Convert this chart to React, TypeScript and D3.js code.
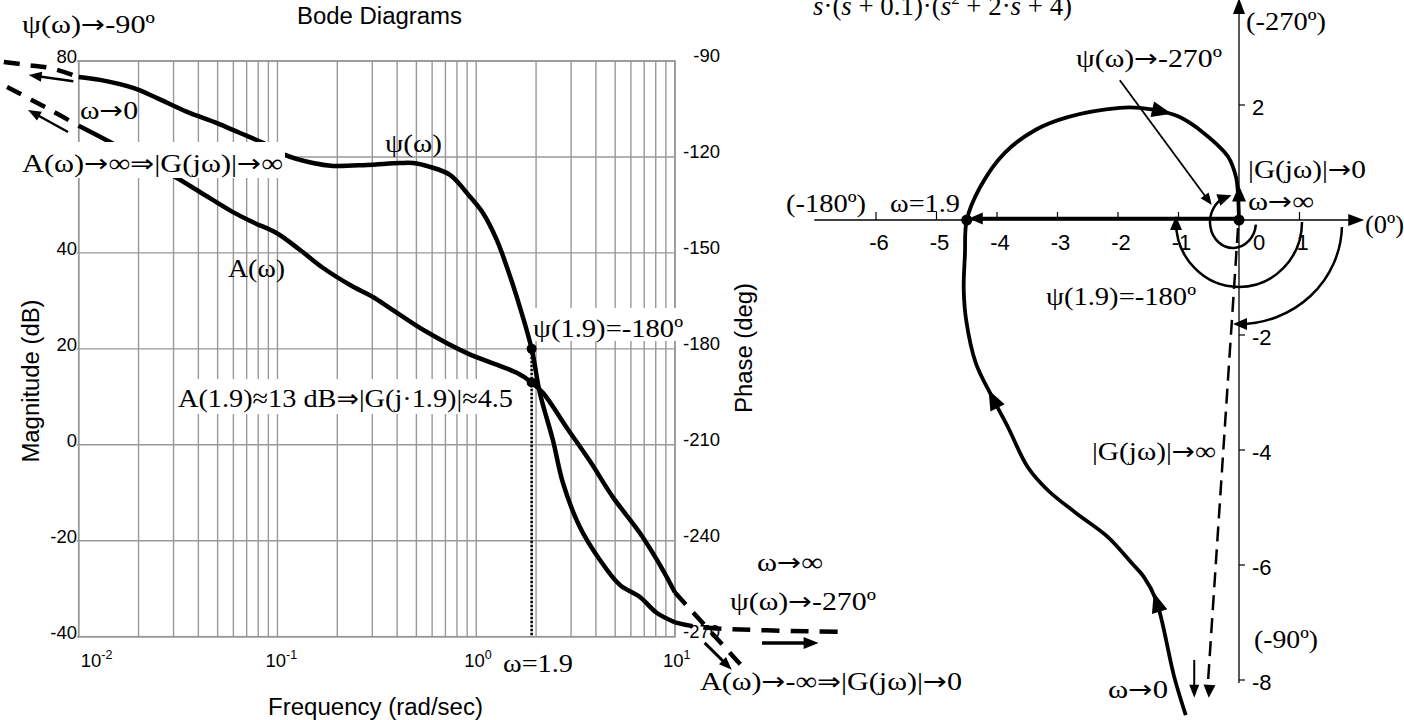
import React from "react";
import * as d3 from "d3";

// ---- Bode diagram: magnitude A(ω), dB ----
const magOmega = [0.01, 0.01437, 0.0203, 0.0312, 0.0407, 0.0597, 0.0753, 0.0994, 0.13, 0.169, 0.232, 0.302, 0.368, 0.565, 0.898, 1.6, 1.9, 2.17, 2.86, 3.73, 4.87, 6.66, 8.69, 10];
const magDb = [66.5, 63.1, 59.8, 55.6, 52.7, 48.5, 46.4, 44.1, 40.6, 36.9, 33.3, 30.8, 28.5, 23.5, 19.1, 15.0, 13, 10.8, 3.5, -3.4, -10.9, -18.4, -26.1, -30.8];
// asymptotic continuations (dashed)
const magLowOmega = [0.00436, 0.0072, 0.01];
const magLowDb = [74.6, 69.8, 66.5];
const magHighOmega = [10, 21.9];
const magHighDb = [-30.8, -46.3];

// ---- Bode diagram: phase ψ(ω), deg ----
const phaseOmega = [0.01, 0.0128, 0.0188, 0.0248, 0.0351, 0.0496, 0.0648, 0.0845, 0.1066, 0.151, 0.19, 0.282, 0.413, 0.481, 0.585, 0.738, 0.898, 1.081, 1.27, 1.426, 1.6, 1.9, 2.09, 2.43, 2.73, 3.32, 4.19, 5.28, 6.66, 8.11, 10];
const phaseDeg = [-95.0, -95.9, -98.4, -101.6, -105.9, -109.4, -112.5, -115.6, -119.1, -121.9, -122.8, -122.5, -121.9, -121.9, -123.1, -125.6, -131.3, -137.5, -146.0, -154.4, -163.8, -180, -193.8, -208.5, -221.9, -235.7, -246.0, -253.8, -257.6, -262.6, -265.5];
const phaseLowOmega = [0.0042, 0.0056, 0.0072, 0.01];
const phaseLowDeg = [-90.3, -91.3, -92.2, -95.0];
const phaseHighOmega = [10, 13.3, 67.6];
const phaseHighDeg = [-265.5, -267, -268.5];

// phase crossover
const wCross = 1.9;
const magAtCross = 13;
const phaseAtCross = -180;

// axes
const magTicks = [-40, -20, 0, 20, 40, 60, 80];
const magTickLabels = [-40, -20, 0, 20, 40, 80]; // the 60 dB label sits under the ω→0 annotation
const phaseTicks = [-90, -120, -150, -180, -210, -240, -270];
const freqDecades = [0.01, 0.1, 1, 10];
const freqExponents = ["-2", "-1", "0", "1"];

// ---- Nyquist plot G(jω) ----
const nyqRe = [-0.88, -1.07, -1.37, -1.57, -1.77, -2.17, -2.69, -3.16, -3.49, -3.82, -4.08, -4.35, -4.51, -4.55, -4.53, -4.5, -4.28, -3.88, -3.36, -2.83, -1.97, -1.64, -1.24, -0.98, -0.58, -0.18, -0.05, -0.02, 0];
const nyqIm = [-8.61, -7.95, -6.61, -6.21, -5.97, -5.51, -5.1, -4.7, -4.3, -3.6, -3.08, -2.49, -1.74, -1.2, -0.6, 0, 0.57, 1.16, 1.57, 1.79, 1.95, 1.95, 1.88, 1.79, 1.51, 1.1, 0.75, 0.5, 0];
const nyqArrowIdx = [2, 10, 22];
const nyqReTicks = [-6, -5, -4, -3, -2, -1, 0, 1];
const nyqImTicks = [2, -2, -4, -6, -8];
const gAtCross = -4.5;

const SERIF = "'Liberation Serif', 'Times New Roman', 'DejaVu Serif', serif";
const SANS = "'Liberation Sans', Arial, 'DejaVu Sans', sans-serif";
const ARROWS = "'DejaVu Sans', sans-serif";

type P = [number, number];
const zip = (a: number[], b: number[]): P[] => a.map((v, i) => [v, b[i]] as P);

function head(tx: number, ty: number, ang: number, len: number, half: number): string {
  const bx = tx - len * Math.cos(ang);
  const by = ty - len * Math.sin(ang);
  const px = -Math.sin(ang) * half;
  const py = Math.cos(ang) * half;
  return `${tx},${ty} ${bx + px},${by + py} ${bx - px},${by - py}`;
}

function Arrow({ x1, y1, x2, y2, w = 2.5, len = 13, half = 5 }: { x1: number; y1: number; x2: number; y2: number; w?: number; len?: number; half?: number }) {
  const a = Math.atan2(y2 - y1, x2 - x1);
  const ex = x2 - (len - 2) * Math.cos(a);
  const ey = y2 - (len - 2) * Math.sin(a);
  return (
    <g>
      <line x1={x1} y1={y1} x2={ex} y2={ey} stroke="#000" strokeWidth={w} />
      <polygon points={head(x2, y2, a, len, half)} fill="#000" />
    </g>
  );
}

// serif annotation; arrow signs are set in a font with long arrows
function S({ x, y, w, size = 26, children }: { x: number; y: number; w?: number; size?: number; children: string }) {
  const parts = children.split(/([→⇒])/).filter(p => p.length > 0);
  return (
    <text x={x} y={y} fontFamily={SERIF} fontSize={size} fill="#000" textLength={w} lengthAdjust={w ? "spacingAndGlyphs" : undefined}>
      {parts.map((p, i) =>
        p === "→" || p === "⇒" ? (
          <tspan key={i} fontFamily={ARROWS} fontSize={size * 0.95}>{p}</tspan>
        ) : (
          <tspan key={i}>{p}</tspan>
        )
      )}
    </text>
  );
}

function EllArc({ cx, cy, rx, ry, a0, a1, w = 2.5 }: { cx: number; cy: number; rx: number; ry: number; a0: number; a1: number; w?: number }) {
  const sx = cx + rx * Math.cos(a0), sy = cy + ry * Math.sin(a0);
  const ex = cx + rx * Math.cos(a1), ey = cy + ry * Math.sin(a1);
  const large = a1 - a0 > Math.PI ? 1 : 0;
  const tang = Math.atan2(ry * Math.cos(a1), -rx * Math.sin(a1));
  const tx = ex + 6 * Math.cos(tang), ty = ey + 6 * Math.sin(tang);
  return (
    <g>
      <path d={`M${sx},${sy} A${rx},${ry} 0 ${large} 1 ${ex},${ey}`} fill="none" stroke="#000" strokeWidth={w} />
      <polygon points={head(tx, ty, tang, 14, 6)} fill="#000" />
    </g>
  );
}

export default function App() {
  // Bode scales
  const x = d3.scaleLog().domain([0.01, 10]).range([78.7, 675]);
  const yMag = d3.scaleLinear().domain([-40, 80]).range([636.7, 61]);
  const yPh = d3.scaleLinear().domain([-270, -90]).range([636.7, 61]);
  // Nyquist scales
  const xN = d3.scaleLinear().domain([-7, 2]).range([815.5, 1360]);
  const yN = d3.scaleLinear().domain([-8, 2]).range([680, 105]);

  const magLine = d3.line<P>().x(d => x(d[0])).y(d => yMag(d[1])).curve(d3.curveCatmullRom.alpha(0.5));
  const phLine = d3.line<P>().x(d => x(d[0])).y(d => yPh(d[1])).curve(d3.curveCatmullRom.alpha(0.5));
  const nyLine = d3.line<P>().x(d => xN(d[0])).y(d => yN(d[1])).curve(d3.curveCatmullRom.alpha(0.5));

  const gridFreqs = [0.01, 0.1, 1].flatMap(d => d3.range(1, 10).map(k => d * k)).concat([10]);
  const [x0, x1] = x.range();
  const yTop = yMag(80), yBot = yMag(-40);
  const gridColor = "#989898";

  const nyPts = zip(nyqRe, nyqIm);
  const ox = xN(0), oy = yN(0);

  return (
    <svg width={1404} height={720} style={{ position: "absolute", left: 0, top: 0, background: "#fff" }}>
      <rect width={1404} height={720} fill="#fff" />

      {/* ---------- Bode grid ---------- */}
      <g>
        {gridFreqs.map((f, i) => (
          <line key={"vf" + i} x1={x(f)} x2={x(f)} y1={yTop} y2={yBot} stroke={gridColor} strokeWidth={1.4} />
        ))}
        {magTicks.map(t => (
          <line key={"hm" + t} x1={x0 - 2} x2={x1} y1={yMag(t)} y2={yMag(t)} stroke={gridColor} strokeWidth={1.4} />
        ))}
        <rect x={x0} y={yTop} width={x1 - x0} height={yBot - yTop} fill="none" stroke={gridColor} strokeWidth={1.6} />
      </g>

      {/* Bode tick labels */}
      {magTickLabels.map(t => (
        <text key={"ml" + t} x={77} y={yMag(t) + 2} textAnchor="end" fontFamily={SANS} fontSize={18.5}>{t}</text>
      ))}
      {phaseTicks.map(t => (
        <text key={"pl" + t} x={720} y={yPh(t) + 1} textAnchor="end" fontFamily={SANS} fontSize={18.5}>{t}</text>
      ))}
      {freqDecades.map((f, i) => (
        <text key={"fl" + i} x={i === 0 ? x(f) + 2 : x(f) - 12} y={667} fontFamily={SANS} fontSize={18.5}>
          10<tspan fontSize={12.5} dy={-8}>{freqExponents[i]}</tspan>
        </text>
      ))}

      <text x={297} y={24} fontFamily={SANS} fontSize={23} textLength={165} lengthAdjust="spacingAndGlyphs">Bode Diagrams</text>
      <text x={268} y={715} fontFamily={SANS} fontSize={23} textLength={215} lengthAdjust="spacingAndGlyphs">Frequency (rad/sec)</text>
      <text transform="translate(39,381) rotate(-90)" textAnchor="middle" fontFamily={SANS} fontSize={23} textLength={163} lengthAdjust="spacingAndGlyphs">Magnitude (dB)</text>
      <text transform="translate(752,348) rotate(-90)" textAnchor="middle" fontFamily={SANS} fontSize={23} textLength={130} lengthAdjust="spacingAndGlyphs">Phase (deg)</text>

      {/* Bode curves */}
      <g fill="none" stroke="#000" strokeLinecap="butt" strokeLinejoin="round">
        <path d={magLine(zip(magOmega, magDb)) || ""} strokeWidth={4.5} />
        <path d={phLine(zip(phaseOmega, phaseDeg)) || ""} strokeWidth={4.5} />
        <path d={magLine(zip(magLowOmega, magLowDb)) || ""} strokeWidth={4.5} strokeDasharray="16 11" />
        <path d={phLine(zip(phaseLowOmega, phaseLowDeg)) || ""} strokeWidth={4.5} strokeDasharray="16 11" />
        <path d={magLine(zip(magHighOmega, magHighDb)) || ""} strokeWidth={4.5} strokeDasharray="16 11" />
        <path d={phLine(zip(phaseHighOmega, phaseHighDeg)) || ""} strokeWidth={4.5} strokeDasharray="18 11" />
      </g>

      {/* crossover marker ω = 1.9 */}
      <line x1={x(wCross)} x2={x(wCross)} y1={yPh(phaseAtCross)} y2={yBot} stroke="#000" strokeWidth={2.5} strokeDasharray="2.5 1.5" />
      <circle cx={x(wCross)} cy={yPh(phaseAtCross)} r={5} fill="#000" />
      <circle cx={x(wCross)} cy={yMag(magAtCross)} r={5} fill="#000" />

      {/* Bode annotations */}
      <Arrow x1={x(0.0094)} y1={yPh(-96.3)} x2={x(0.0056)} y2={yPh(-94.4)} w={2.5} />
      <Arrow x1={x(0.00884)} y1={yMag(65.2)} x2={x(0.00556)} y2={yMag(69.8)} w={2.5} />
      <Arrow x1={x(14.1)} y1={yMag(-41.3)} x2={x(19.3)} y2={yMag(-46.9)} w={3} />
      <Arrow x1={x(27.4)} y1={yPh(-272)} x2={x(52.8)} y2={yPh(-272)} w={3.5} len={15} half={6} />

      <S x={22} y={33} w={133}>ψ(ω)→-90º</S>
      <S x={80} y={119} w={58}>ω→0</S>
      <rect x={18} y={142} width={267} height={36} fill="#fff" />
      <S x={22} y={172} w={261}>A(ω)→∞⇒|G(jω)|→∞</S>
      <S x={385} y={152} w={57}>ψ(ω)</S>
      <S x={228} y={277} w={57}>A(ω)</S>
      <rect x={175} y={379} width={339} height={35} fill="#fff" />
      <S x={178} y={407} w={335}>A(1.9)≈13 dB⇒|G(j·1.9)|≈4.5</S>
      <rect x={532} y={308} width={152} height={33} fill="#fff" />
      <S x={533} y={337} w={150}>ψ(1.9)=-180º</S>
      <S x={503} y={672} w={70}>ω=1.9</S>
      <S x={757} y={571} w={66}>ω→∞</S>
      <S x={730} y={610} w={146}>ψ(ω)→-270º</S>
      <S x={700} y={690} w={262}>A(ω)→-∞⇒|G(jω)|→0</S>

      {/* ---------- Nyquist plot ---------- */}
      <text x={813} y={15} fontFamily={SERIF} fontSize={27} textLength={259} lengthAdjust="spacingAndGlyphs">
        <tspan fontStyle="italic">s</tspan>·(<tspan fontStyle="italic">s</tspan> + 0.1)·(<tspan fontStyle="italic">s</tspan>
        <tspan fontSize={17} dy={-11}>2</tspan>
        <tspan dy={11}> + 2·</tspan><tspan fontStyle="italic">s</tspan> + 4)
      </text>

      {/* axes */}
      <line x1={xN(-7.02)} x2={xN(2.07) - 10} y1={oy} y2={oy} stroke="#000" strokeWidth={1.3} />
      <polygon points={head(xN(2.07), oy, 0, 16, 6)} fill="#000" />
      <line x1={ox} x2={ox} y1={yN(-8.05)} y2={yN(3.86) + 10} stroke="#000" strokeWidth={1.3} />
      <polygon points={head(ox, yN(3.86), -Math.PI / 2, 16, 6)} fill="#000" />
      {nyqReTicks.filter(t => t !== 0).map(t => (
        <line key={"nt" + t} x1={xN(t)} x2={xN(t)} y1={oy} y2={oy - 8} stroke="#000" strokeWidth={1.2} />
      ))}
      {nyqImTicks.map(t => (
        <line key={"nit" + t} x1={ox} x2={ox + 6} y1={yN(t)} y2={yN(t)} stroke="#000" strokeWidth={1.2} />
      ))}
      {nyqReTicks.map(t => (
        <text key={"nl" + t} x={t === 0 ? xN(t) + 20 : xN(t) + 3} y={250} textAnchor="middle" fontFamily={SANS} fontSize={22}>{t}</text>
      ))}
      {nyqImTicks.map(t => (
        <text key={"nil" + t} x={ox + 13} y={yN(t) + 10} fontFamily={SANS} fontSize={22}>{t}</text>
      ))}

      {/* |G(jω)| at ω = 1.9 */}
      <line x1={ox} y1={oy - 1.5} x2={xN(gAtCross) + 10} y2={oy - 1.5} stroke="#000" strokeWidth={3.5} />
      <polygon points={head(xN(gAtCross) + 2, oy - 1.5, Math.PI, 14, 6)} fill="#000" />

      {/* angle indicators */}
      <EllArc cx={ox - 6} cy={oy + 2} rx={23} ry={26} a0={0.1} a1={4.4} />
      <EllArc cx={ox} cy={oy + 2} rx={63} ry={65} a0={0} a1={Math.PI} />
      <EllArc cx={ox} cy={oy + 4} rx={103} ry={100} a0={0.03} a1={Math.PI / 2} />

      {/* pointer to the -270º angle */}
      <Arrow x1={xN(-1.97)} y1={yN(2.43)} x2={xN(-0.45)} y2={yN(0.26)} w={1.8} len={12} half={5} />

      {/* |G(jω)|→∞ direction */}
      <line x1={ox - 1} y1={oy + 8} x2={xN(-0.51)} y2={yN(-8.0)} stroke="#000" strokeWidth={2.5} strokeDasharray="15 8" />
      <polygon points={head(xN(-0.5), yN(-8.31), Math.PI / 2 + 0.06, 13, 6)} fill="#000" />
      <Arrow x1={xN(-0.74)} y1={yN(-7.65)} x2={xN(-0.74)} y2={yN(-8.31)} w={2} len={13} half={5} />

      {/* Nyquist curve */}
      <path d={nyLine(nyPts) || ""} fill="none" stroke="#000" strokeWidth={3.8} strokeLinejoin="round" />
      {nyqArrowIdx.map(i => {
        const a = nyPts[i - 1], b = nyPts[i + 1];
        const ang = Math.atan2(yN(b[1]) - yN(a[1]), xN(b[0]) - xN(a[0]));
        const tx = xN(nyPts[i][0]) + 8 * Math.cos(ang);
        const ty = yN(nyPts[i][1]) + 8 * Math.sin(ang);
        return <polygon key={"na" + i} points={head(tx, ty, ang, 20, 8)} fill="#000" />;
      })}
      <polygon points={head(ox, yN(0.6), -Math.PI / 2, 16, 7)} fill="#000" />
      <circle cx={ox} cy={oy} r={5.5} fill="#000" />
      <circle cx={xN(gAtCross)} cy={oy} r={5.5} fill="#000" />

      {/* Nyquist annotations */}
      <S x={1246} y={30} w={80}>(-270º)</S>
      <S x={1076} y={67} w={146}>ψ(ω)→-270º</S>
      <S x={1248} y={178} w={118}>|G(jω)|→0</S>
      <S x={1248} y={210} w={66}>ω→∞</S>
      <S x={786} y={212} w={80}>(-180º)</S>
      <S x={890} y={212} w={70}>ω=1.9</S>
      <S x={1365} y={233} w={39}>(0º)</S>
      <S x={1046} y={305} w={150}>ψ(1.9)=-180º</S>
      <S x={1092} y={460} w={124}>|G(jω)|→∞</S>
      <S x={1254} y={648} w={64}>(-90º)</S>
      <S x={1108} y={698} w={60}>ω→0</S>
    </svg>
  );
}
